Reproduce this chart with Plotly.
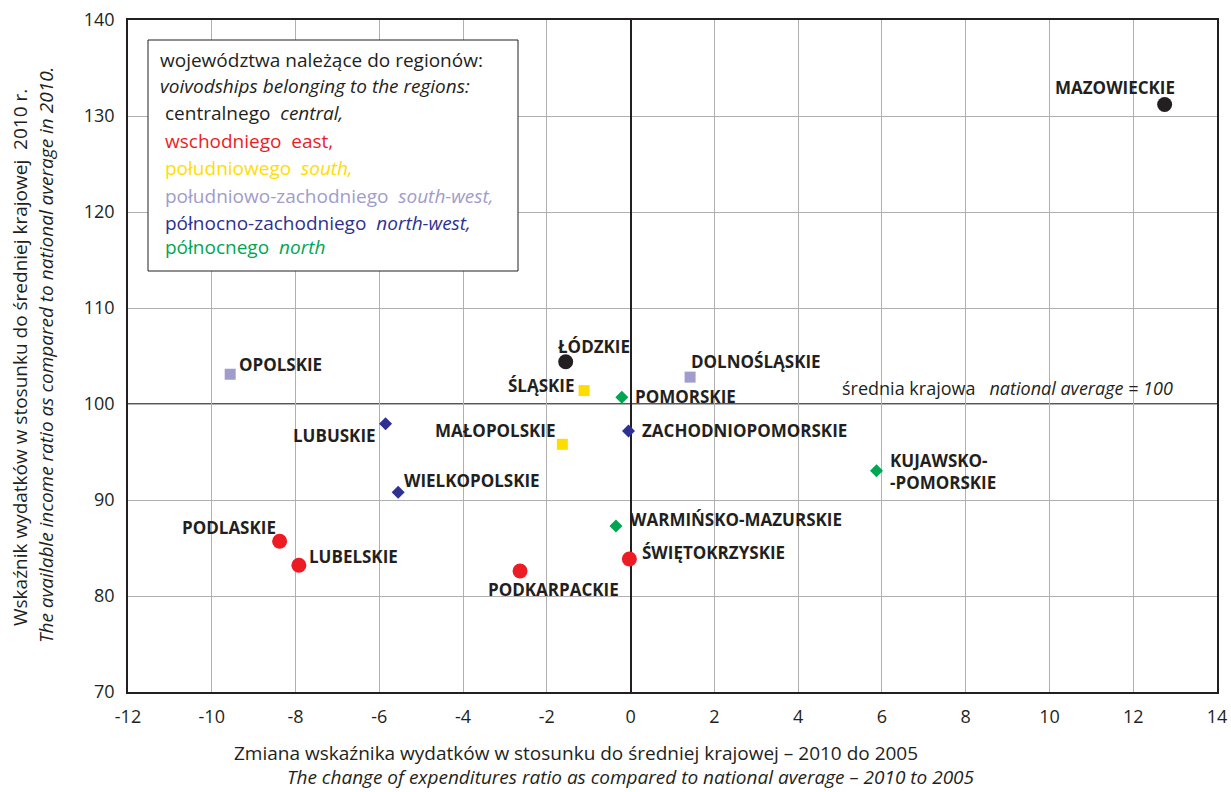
import plotly.graph_objects as go

# województwa: zmiana wskaźnika (x) i wskaźnik 2010 (y)
names = ["MAZOWIECKIE", "ŁÓDZKIE", "PODLASKIE", "LUBELSKIE", "PODKARPACKIE",
         "ŚWIĘTOKRZYSKIE", "ŚLĄSKIE", "MAŁOPOLSKIE", "OPOLSKIE", "DOLNOŚLĄSKIE",
         "LUBUSKIE", "WIELKOPOLSKIE", "ZACHODNIOPOMORSKIE", "POMORSKIE",
         "WARMIŃSKO-MAZURSKIE", "KUJAWSKO-<br>-POMORSKIE"]
x_change = [12.75, -1.55, -8.38, -7.92, -2.64, -0.03, -1.11, -1.63, -9.56, 1.42,
            -5.85, -5.55, -0.05, -0.21, -0.35, 5.87]
y_ratio = [131.2, 104.4, 85.7, 83.2, 82.6, 83.85, 101.4, 95.8, 103.1, 102.8,
           97.95, 90.8, 97.2, 100.7, 87.3, 93.05]
region = ["central", "central", "east", "east", "east", "east", "south", "south",
          "south-west", "south-west", "north-west", "north-west", "north-west",
          "north", "north", "north"]

region_keys = ["central", "east", "south", "south-west", "north-west", "north"]
region_pl = ["centralnego", "wschodniego", "południowego", "południowo-zachodniego",
             "północno-zachodniego", "północnego"]
region_en = ["<i>central,</i>", "east,", "<i>south,</i>", "<i>south-west,</i>",
             "<i>north-west,</i>", "<i>north</i>"]

x_ticks = list(range(-12, 15, 2))
y_ticks = list(range(70, 141, 10))
national_avg = 100

# styles
colors = {"central": "#231f20", "east": "#ed1c24", "south": "#ffdd00",
          "south-west": "#a09ccb", "north-west": "#2e3192", "north": "#00a651"}
symbols = {"central": ("circle", 15), "east": ("circle", 15),
           "south": ("square", 11), "south-west": ("square", 11),
           "north-west": ("diamond", 10), "north": ("diamond", 10)}
# label offsets (px): xshift, yshift, xanchor
label_pos = {
    "MAZOWIECKIE": (12, 17, "right"),
    "ŁÓDZKIE": (-10, 15, "left"),
    "PODLASKIE": (-2, 14, "right"),
    "LUBELSKIE": (8, 9, "left"),
    "PODKARPACKIE": (33, -18, "center"),
    "ŚWIĘTOKRZYSKIE": (11, 7, "left"),
    "ŚLĄSKIE": (-7, 5, "right"),
    "MAŁOPOLSKIE": (-4, 14, "right"),
    "OPOLSKIE": (7, 10, "left"),
    "DOLNOŚLĄSKIE": (-1, 16, "left"),
    "LUBUSKIE": (-8, -12, "right"),
    "WIELKOPOLSKIE": (4, 12, "left"),
    "ZACHODNIOPOMORSKIE": (11, 0, "left"),
    "POMORSKIE": (11, 1, "left"),
    "WARMIŃSKO-MAZURSKIE": (12, 6, "left"),
    "KUJAWSKO-<br>-POMORSKIE": (12, -1, "left"),
}

FONT = "Open Sans, Noto Sans, sans-serif"
DARK = "#231f20"

W, H = 1231, 792
PLOT_L, PLOT_T, PLOT_W, PLOT_H = 128, 20, 1089, 672


def px(xs):
    return (xs - PLOT_L) / PLOT_W


def py(ys):
    return 1 - (ys - PLOT_T) / PLOT_H


fig = go.Figure()

for key in region_keys:
    idx = [i for i, r in enumerate(region) if r == key]
    sym, size = symbols[key]
    fig.add_trace(go.Scatter(
        x=[x_change[i] for i in idx],
        y=[y_ratio[i] for i in idx],
        mode="markers",
        marker=dict(symbol=sym, size=size, color=colors[key], line=dict(width=0)),
        name=key,
        showlegend=False,
        hoverinfo="skip",
    ))

annotations = []
for n, xv, yv in zip(names, x_change, y_ratio):
    dx, dy, anchor = label_pos[n]
    annotations.append(dict(
        x=xv, y=yv, xref="x", yref="y", text="<b>" + n + "</b>",
        showarrow=False, xanchor=anchor, yanchor="middle", align="left",
        xshift=dx, yshift=dy,
        font=dict(family=FONT, size=17, color=DARK),
    ))

# national average note
annotations.append(dict(
    x=13, y=national_avg, xref="x", yref="y", xanchor="right", yanchor="bottom",
    yshift=2, showarrow=False,
    text="średnia krajowa   <i>national average = 100</i>",
    font=dict(family=FONT, size=18, color=DARK),
))

# legend box text
legend_lines = [("województwa należące do regionów:", DARK, 158, 60),
                ("<i>voivodships belonging to the regions:</i>", DARK, 158, 86)]
line_y = [113, 141, 168, 196, 223, 247]
for key, pl, en, ly in zip(region_keys, region_pl, region_en, line_y):
    legend_lines.append((pl + "  " + en, colors[key], 163, ly))

for txt, col, lx, ly in legend_lines:
    annotations.append(dict(
        x=px(lx), y=py(ly), xref="paper", yref="paper", xanchor="left",
        yanchor="middle", showarrow=False, text=txt,
        font=dict(family=FONT, size=19, color=col),
    ))

# axis titles
TITLE_FONT = dict(family=FONT, size=19, color=DARK)
titles = [
    (20, 358, -90, "middle", "Wskaźnik wydatków w stosunku do średniej krajowej  2010 r."),
    (46, 355, -90, "middle", "<i>The available income ratio as compared to national average in 2010.</i>"),
    (576, 753, 0, "middle", "Zmiana wskaźnika wydatków w stosunku do średniej krajowej – 2010 do 2005"),
    (631, 792, 0, "bottom", "<i>The change of expenditures ratio as compared to national average – 2010 to 2005</i>"),
]
for tx, ty, ang, va, txt in titles:
    annotations.append(dict(
        x=px(tx), y=py(ty), xref="paper", yref="paper", textangle=ang,
        xanchor="center", yanchor=va, showarrow=False, text=txt,
        font=TITLE_FONT,
    ))

shapes = [
    dict(type="line", xref="paper", yref="y", x0=0, x1=1,
         y0=national_avg, y1=national_avg,
         line=dict(color=DARK, width=1.5), layer="between"),
    dict(type="rect", xref="paper", yref="paper",
         x0=px(148), x1=px(518), y0=py(271), y1=py(40),
         line=dict(color=DARK, width=1), fillcolor="white", layer="above"),
]

axis_common = dict(
    showgrid=True, gridcolor="#b0b0b0", gridwidth=1,
    zeroline=True, zerolinecolor=DARK, zerolinewidth=1.5,
    showline=True, linecolor=DARK, linewidth=1.5, mirror=True,
    ticks="outside", ticklen=8, tickcolor="rgba(0,0,0,0)",
    automargin=False,
    tickfont=dict(family=FONT, size=18, color=DARK),
)

fig.update_layout(
    width=W, height=H,
    margin=dict(l=PLOT_L, t=PLOT_T, r=W - PLOT_L - PLOT_W, b=H - PLOT_T - PLOT_H),
    paper_bgcolor="white", plot_bgcolor="white",
    xaxis=dict(range=[-12, 14], tickvals=x_ticks,
               ticktext=[str(v) for v in x_ticks], **axis_common),
    yaxis=dict(range=[70, 140], tickvals=y_ticks,
               ticktext=[str(v) for v in y_ticks], **axis_common),
    annotations=annotations,
    shapes=shapes,
)

# drop the default page margin so the figure fills the window exactly
page_js = ("document.body.style.margin='0';"
           "document.body.style.overflow='hidden';"
           "document.documentElement.style.overflow='hidden';")
fig.write_html("out.html", config={"displayModeBar": False}, post_script=page_js)
